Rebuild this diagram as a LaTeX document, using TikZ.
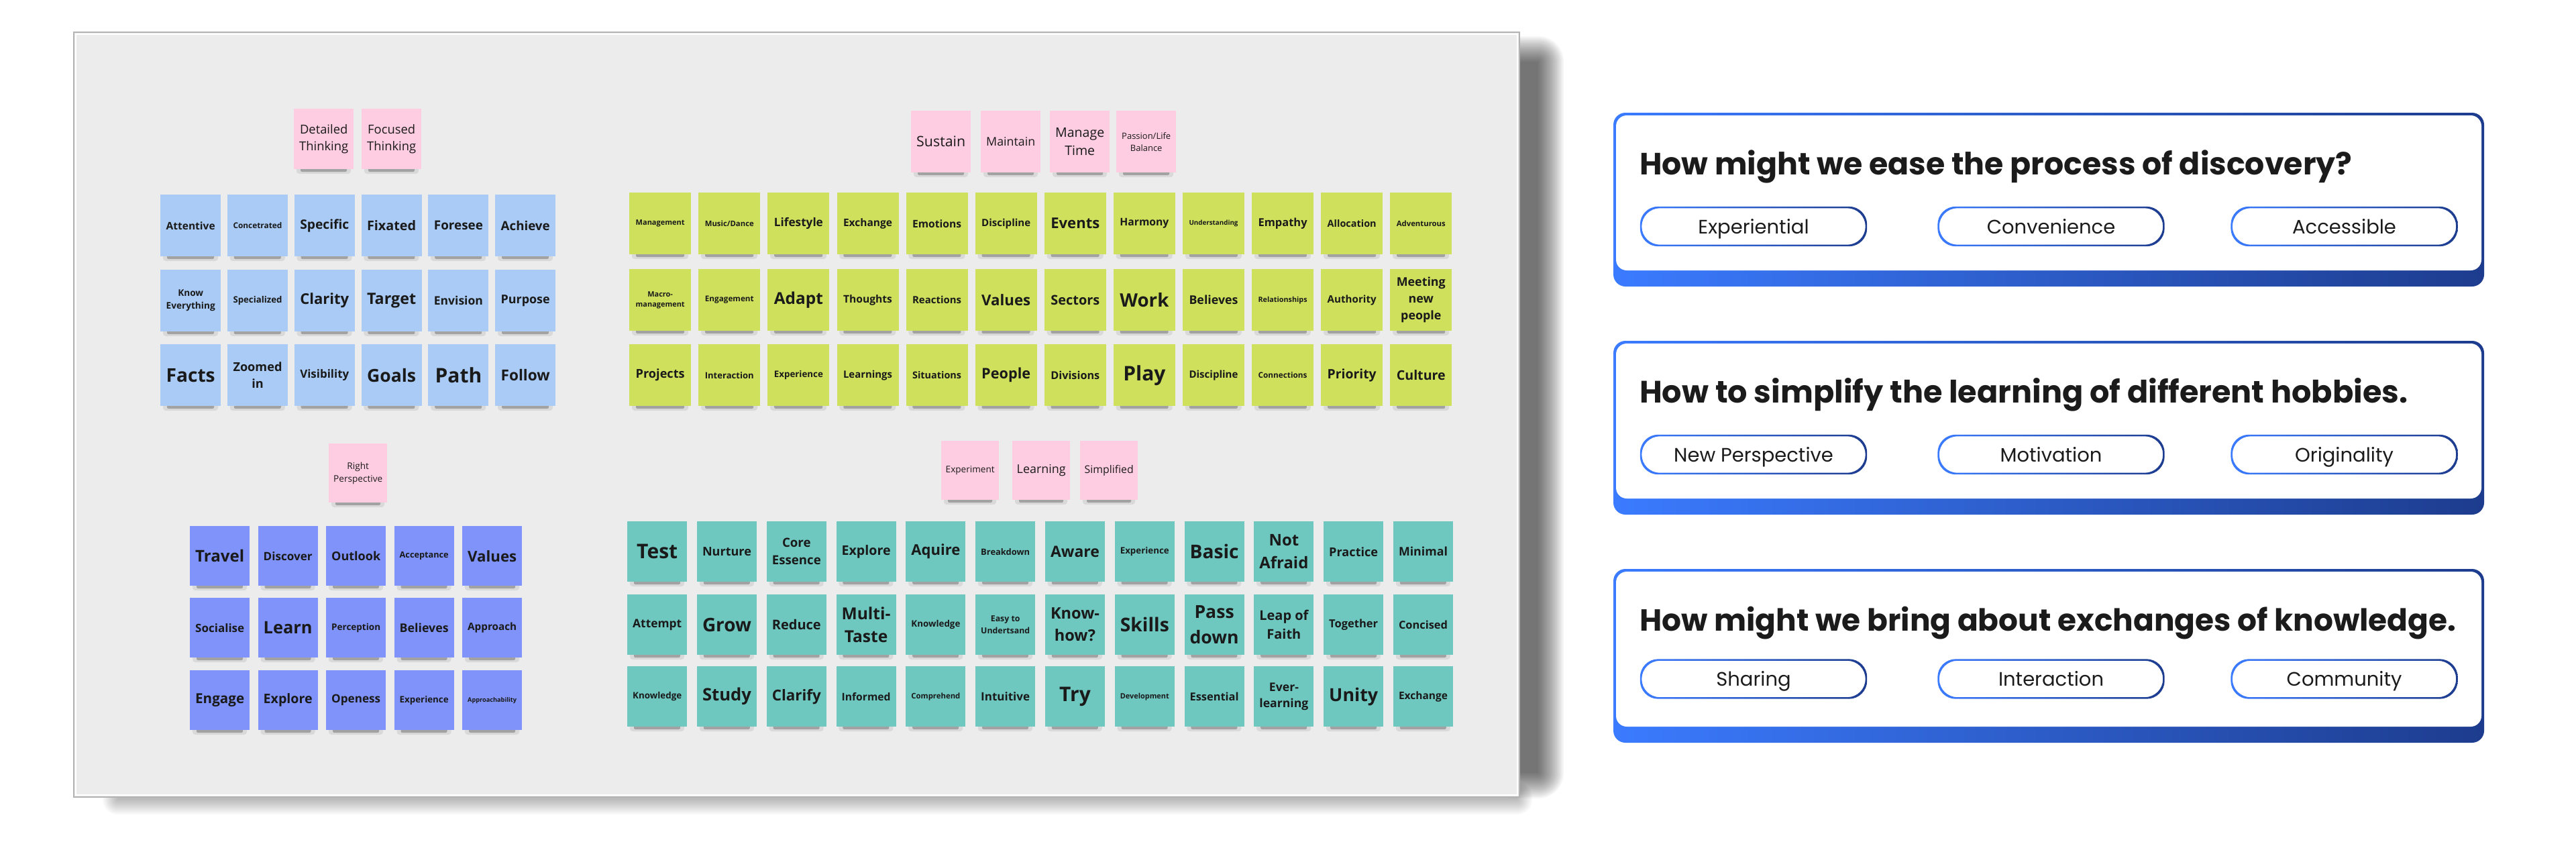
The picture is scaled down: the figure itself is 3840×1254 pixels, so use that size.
\documentclass[tikz,border=0pt]{standalone}
\usepackage{graphicx}
\usepackage{fontspec}
\setmainfont{Open Sans}
\newfontfamily\cardfont{Poppins}
\definecolor{boardc}{HTML}{ECECEC}
\definecolor{boardline}{HTML}{B3B3B3}
\definecolor{pinkn}{HTML}{FFCDE1}
\definecolor{bluen}{HTML}{A9CBF5}
\definecolor{purplen}{HTML}{7F93FA}
\definecolor{greenn}{HTML}{CFE05C}
\definecolor{tealn}{HTML}{6EC8C0}
\definecolor{notetext}{HTML}{1A1A1A}
\definecolor{cardL}{HTML}{3B7BFF}
\definecolor{cardR}{HTML}{1D3C8E}
\definecolor{titletext}{HTML}{1B1B1B}
\tikzset{
 stickynote/.style={anchor=north west, inner sep=0pt, align=center, text=notetext, minimum width=\nw*1pt, minimum height=\nh*1pt},
 notesha/.style={black, opacity=0.08, rounded corners=4pt},
 noteshb/.style={black, opacity=0.25, rounded corners=2pt},
 pill/.style={minimum width=338pt, minimum height=59pt, inner sep=0pt, text height=21pt, text depth=0pt, font=\cardfont\fontsize{29}{36}\selectfont, text=titletext},
 pillring/.style={left color=cardL, right color=cardR, even odd rule, rounded corners=27pt},
 cardtitle/.style={anchor=base west, inner sep=0pt, font=\cardfont\bfseries\fontsize{47}{56}\selectfont, text=titletext},
 softsh/.style={black, opacity=0.035},
}
\newsavebox\notebox
\newcommand\snote[6][\bfseries]{%
 \pgfinterruptpicture
 \global\setbox\notebox=\hbox{\normalfont\fontsize{10}{14}\selectfont#1\begin{tabular}{@{}c@{}}#6\end{tabular}}%
 \endpgfinterruptpicture
 \pgfmathsetmacro\nTW{\the\wd\notebox}%
 \pgfmathsetmacro\nTH{\the\ht\notebox+\the\dp\notebox}%
 \pgfmathsetmacro\nFS{min(730/\nTW,750/\nTH,30)}%
 \pgfmathsetmacro\nLS{1.4*\nFS}%
 \fill[notesha] (#3+4,#4+\nh-5) rectangle (#3+\nw-4,#4+\nh+7);
 \fill[noteshb] (#3+10,#4+\nh-3) rectangle (#3+\nw-10,#4+\nh+4);
 \node[stickynote, fill=#5, font=\fontsize{\nFS}{\nLS}\selectfont#1] (#2) at (#3,#4) {#6};
}
\newcommand\pillframe[1]{%
 \shade[pillring] (#1.north west) rectangle (#1.south east)
   ([xshift=2.5pt,yshift=-2.5pt]#1.north west) rectangle ([xshift=-2.5pt,yshift=2.5pt]#1.south east);
}
\newcommand\qcard[8]{%
 \shade[left color=cardL, right color=cardR, rounded corners=18pt] (2405,#2) rectangle (3703,#2+259);
 \fill[white, rounded corners=16pt] (2409,#2+4) rectangle (3699,#2+235);
 \node[cardtitle] (#1t) at (2444,#2+92) {\resizebox{#4pt}{!}{#3}};
 \node[pill] (#1a) at (2614,#2+#8) {#5};
 \node[pill] (#1b) at (3057.5,#2+#8) {#6};
 \node[pill] (#1c) at (3494.5,#2+#8) {#7};
 \pillframe{#1a}\pillframe{#1b}\pillframe{#1c}
}
\begin{document}
\begin{tikzpicture}[x=1pt,y=-1pt]
\useasboundingbox (0,0) rectangle (3840,1254);
\fill[white] (0,0) rectangle (3840,1254);
% board shadow (soft, built from stacked translucent layers)
\foreach \k in {0,...,19}
  \fill[softsh, rounded corners=\k*2pt] (2255-\k*2,92-\k*2) rectangle (2293+\k*2,1152+\k*2);
\foreach \k in {0,...,11}
  \fill[black, opacity=0.022, rounded corners=\k*2pt] (175-\k*2,1182-\k*1.5) rectangle (2262+\k*2,1192+\k*2);
% board
\fill[boardc] (110,48) rectangle (2265,1188);
\draw[boardline, line width=2pt] (110,48) rectangle (2265,1188);
\draw[white, line width=1.5pt] (113,51) rectangle (2262,1185);

% group A
\def\nw{89}\def\nh{90}
\snote[\mdseries]{pa1}{438}{162}{pinkn}{Detailed\\Thinking}
\snote[\mdseries]{pa2}{539}{162}{pinkn}{Focused\\Thinking}
\def\nw{90}\def\nh{92}
\foreach \t [count=\i from 0] in {Attentive, Concetrated, Specific, Fixated, Foresee, Achieve}
  {\snote{aa\i}{239+\i*99.8}{290}{bluen}{\t}}
\foreach \t [count=\i from 0] in {{Know\\Everything}, Specialized, Clarity, Target, Envision, Purpose}
  {\snote{ab\i}{239+\i*99.8}{402}{bluen}{\t}}
\foreach \t [count=\i from 0] in {Facts, {Zoomed\\in}, Visibility, Goals, Path, Follow}
  {\snote{ac\i}{239+\i*99.8}{513}{bluen}{\t}}

% group B
\def\nw{87}\def\nh{88}
\snote[\mdseries]{pb1}{490}{661}{pinkn}{Right\\Perspective}
\def\nw{89}\def\nh{89}
\foreach \t [count=\i from 0] in {Travel, Discover, Outlook, Acceptance, Values}
  {\snote{ba\i}{283+\i*101.5}{784}{purplen}{\t}}
\foreach \t [count=\i from 0] in {Socialise, Learn, Perception, Believes, Approach}
  {\snote{bb\i}{283+\i*101.5}{891}{purplen}{\t}}
\foreach \t [count=\i from 0] in {Engage, Explore, Openess, Experience, Approachability}
  {\snote{bc\i}{283+\i*101.5}{999}{purplen}{\t}}

% group C
\def\nw{89}\def\nh{92}
\snote[\mdseries]{pc1}{1358}{165}{pinkn}{Sustain}
\snote[\mdseries]{pc2}{1462}{165}{pinkn}{Maintain}
\snote[\mdseries]{pc3}{1565}{165}{pinkn}{Manage\\Time}
\snote[\mdseries]{pc4}{1664}{165}{pinkn}{Passion/Life\\Balance}
\def\nw{92}\def\nh{92}
\foreach \t [count=\i from 0] in {Management, Music/Dance, Lifestyle, Exchange, Emotions, Discipline, Events, Harmony, Understanding, Empathy, Allocation, Adventurous}
  {\snote{ca\i}{938+\i*103.1}{287}{greenn}{\t}}
\foreach \t [count=\i from 0] in {{Macro-\\management}, Engagement, Adapt, Thoughts, Reactions, Values, Sectors, Work, Believes, Relationships, Authority, {Meeting\\new\\people}}
  {\snote{cb\i}{938+\i*103.1}{401}{greenn}{\t}}
\foreach \t [count=\i from 0] in {Projects, Interaction, Experience, Learnings, Situations, People, Divisions, Play, Discipline, Connections, Priority, Culture}
  {\snote{cc\i}{938+\i*103.1}{513}{greenn}{\t}}

% group D
\def\nw{86}\def\nh{88}
\snote[\mdseries]{pd1}{1403}{657}{pinkn}{Experiment}
\snote[\mdseries]{pd2}{1509}{657}{pinkn}{Learning}
\snote[\mdseries]{pd3}{1610}{657}{pinkn}{Simplified}
\def\nw{89}\def\nh{90}
\foreach \t [count=\i from 0] in {Test, Nurture, {Core\\Essence}, Explore, Aquire, Breakdown, Aware, Experience, Basic, {Not\\Afraid}, Practice, Minimal}
  {\snote{da\i}{935+\i*103.8}{777}{tealn}{\t}}
\foreach \t [count=\i from 0] in {Attempt, Grow, Reduce, {Multi-\\Taste}, Knowledge, {Easy to\\Undertsand}, {Know-\\how?}, Skills, {Pass\\down}, {Leap of\\Faith}, Together, Concised}
  {\snote{db\i}{935+\i*103.8}{886}{tealn}{\t}}
\foreach \t [count=\i from 0] in {Knowledge, Study, Clarify, Informed, Comprehend, Intuitive, Try, Development, Essential, {Ever-\\learning}, Unity, Exchange}
  {\snote{dc\i}{935+\i*103.8}{993}{tealn}{\t}}

% question cards
\qcard{q1}{168}{How might we ease the process of discovery?}{1062}{Experiential}{Convenience}{Accessible}{169.5}
\qcard{q2}{508}{How to simplify the learning of different hobbies.}{1145}{New Perspective}{Motivation}{Originality}{169.5}
\qcard{q3}{848}{How might we bring about exchanges of knowledge.}{1217}{Sharing}{Interaction}{Community}{164}
\end{tikzpicture}
\end{document}
